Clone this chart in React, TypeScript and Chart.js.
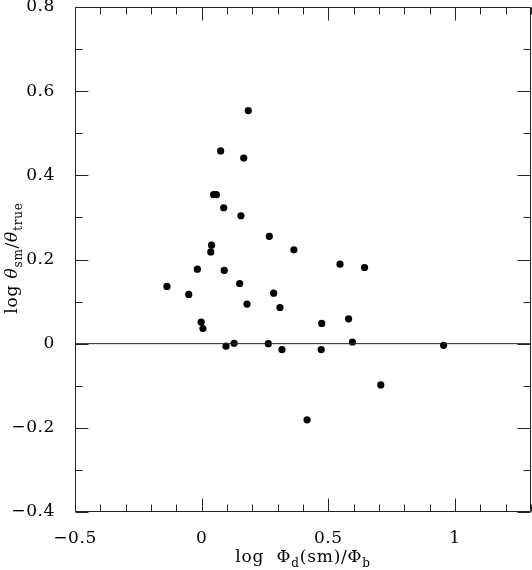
import React, { useEffect, useRef } from 'react';
import { Chart, registerables } from 'chart.js';
Chart.register(...registerables);

// Data
const xVals = [0.184, 0.075, 0.166, 0.047, 0.058, 0.087, 0.155, 0.267, 0.039, 0.036, 0.364, -0.137, -0.017, 0.089, -0.051, 0.150, 0.284, 0.179, 0.309, -0.002, 0.005, 0.096, 0.128, 0.263, 0.317, 0.546, 0.643, 0.474, 0.580, 0.472, 0.595, 0.955, 0.707, 0.416];
const yVals = [0.554, 0.458, 0.441, 0.354, 0.354, 0.323, 0.304, 0.255, 0.234, 0.218, 0.223, 0.136, 0.177, 0.174, 0.117, 0.143, 0.120, 0.094, 0.086, 0.051, 0.036, -0.006, 0.001, 0.000, -0.014, 0.189, 0.181, 0.048, 0.059, -0.014, 0.004, -0.004, -0.098, -0.181];
const zeroLineX = [-0.5, 1.3];
const zeroLineY = [0, 0];

const xMin = -0.5, xMax = 1.3;
const yMin = -0.4, yMax = 0.8;
const xMajorTicks = [-0.5, 0, 0.5, 1];
const yMajorTicks = [-0.4, -0.2, 0, 0.2, 0.4, 0.6, 0.8];
const xMinorStep = 0.1;
const yMinorStep = 0.1;

const FONT = '"DejaVu Serif", serif';

type Part = { t: string; sub?: boolean; italic?: boolean };

function drawRich(ctx: CanvasRenderingContext2D, parts: Part[], cx: number, baseY: number, size: number) {
  const subSize = Math.round(size * 0.7);
  const fontFor = (p: Part) => `${p.italic ? 'italic ' : ''}${p.sub ? subSize : size}px ${FONT}`;
  let total = 0;
  const widths = parts.map((p) => {
    ctx.font = fontFor(p);
    const w = ctx.measureText(p.t).width;
    total += w;
    return w;
  });
  let x = cx - total / 2;
  ctx.textAlign = 'left';
  ctx.textBaseline = 'alphabetic';
  parts.forEach((p, i) => {
    ctx.font = fontFor(p);
    ctx.fillText(p.t, x, baseY + (p.sub ? 5 : 0));
    x += widths[i];
  });
}

const framePlugin = {
  id: 'frameTicks',
  beforeDraw(chart: any) {
    (chart.ctx as any).letterSpacing = '0.6px';
  },
  afterDraw(chart: any) {
    const { ctx, chartArea: a } = chart;
    const xs = chart.scales.x;
    const ys = chart.scales.y;
    ctx.save();
    (ctx as any).letterSpacing = '0px';
    ctx.strokeStyle = '#222';
    ctx.lineWidth = 1;
    const L = Math.round(a.left) + 0.5;
    const R = Math.round(a.right) - 0.5;
    const T = Math.round(a.top) + 0.5;
    const B = Math.round(a.bottom) - 0.5;
    ctx.beginPath();
    ctx.rect(L, T, R - L, B - T);
    ctx.stroke();
    const major = 13, minor = 7;
    ctx.beginPath();
    const nx = Math.round((xMax - xMin) / xMinorStep);
    for (let i = 0; i <= nx; i++) {
      const v = Math.round((xMin + i * xMinorStep) * 10) / 10;
      const isMajor = xMajorTicks.some((m) => Math.abs(m - v) < 1e-6);
      const len = isMajor ? major : minor;
      const px = Math.round(xs.getPixelForValue(v)) + 0.5;
      ctx.moveTo(px, B); ctx.lineTo(px, B - len);
      ctx.moveTo(px, T); ctx.lineTo(px, T + len);
    }
    const ny = Math.round((yMax - yMin) / yMinorStep);
    for (let i = 0; i <= ny; i++) {
      const v = Math.round((yMin + i * yMinorStep) * 10) / 10;
      const isMajor = yMajorTicks.some((m) => Math.abs(m - v) < 1e-6);
      const len = isMajor ? major : minor;
      const py = Math.round(ys.getPixelForValue(v)) + 0.5;
      ctx.moveTo(L, py); ctx.lineTo(L + len, py);
      ctx.moveTo(R, py); ctx.lineTo(R - len, py);
    }
    ctx.stroke();

    // Axis titles
    ctx.fillStyle = '#000';
    (ctx as any).letterSpacing = '0.8px';
    drawRich(ctx, [
      { t: 'log  ' },
      { t: 'Φ' },
      { t: 'd', sub: true },
      { t: '(sm)/' },
      { t: 'Φ' },
      { t: 'b', sub: true },
    ], 303, 562, 17);

    ctx.save();
    ctx.translate(17, 258);
    ctx.rotate(-Math.PI / 2);
    drawRich(ctx, [
      { t: 'log ' },
      { t: 'θ', italic: true },
      { t: 'sm', sub: true },
      { t: '/' },
      { t: 'θ', italic: true },
      { t: 'true', sub: true },
    ], 0, 0, 17);
    ctx.restore();
    ctx.restore();
  },
};

const fmt = (v: number) => {
  const s = String(Math.round(v * 10) / 10);
  return s.replace('-', '\u2212');
};

const zeroPad = (s: any) => {
  s.paddingTop = 0; s.paddingBottom = 0; s.paddingLeft = 0; s.paddingRight = 0;
};

export default function App() {
  const ref = useRef<HTMLCanvasElement | null>(null);
  useEffect(() => {
    document.body.style.margin = '0';
    const canvas = ref.current;
    if (!canvas) return;
    const points = xVals.map((x, i) => ({ x, y: yVals[i] }));
    const zero = zeroLineX.map((x, i) => ({ x, y: zeroLineY[i] }));
    const chart = new Chart(canvas, {
      type: 'scatter',
      data: {
        datasets: [
          {
            type: 'line',
            data: zero,
            borderColor: '#222',
            borderWidth: 1,
            pointRadius: 0,
            fill: false,
          } as any,
          {
            data: points,
            backgroundColor: '#000',
            borderColor: '#000',
            borderWidth: 0,
            pointRadius: 3.6,
            pointHoverRadius: 3.6,
          },
        ],
      },
      options: {
        animation: false,
        responsive: false,
        devicePixelRatio: 1,
        layout: { autoPadding: false, padding: { top: 7, right: 1, left: 0, bottom: 0 } },
        plugins: { legend: { display: false }, tooltip: { enabled: false }, title: { display: false } },
        events: [],
        scales: {
          x: {
            type: 'linear',
            min: xMin,
            max: xMax,
            grid: { display: false },
            border: { display: false },
            afterBuildTicks: (s: any) => { s.ticks = xMajorTicks.map((value) => ({ value })); },
            afterFit: (s: any) => { s.height = 58; zeroPad(s); },
            ticks: {
              color: '#000',
              padding: 8,
              maxRotation: 0,
              font: { family: FONT, size: 17 },
              callback: (v: any) => fmt(Number(v)),
            },
          },
          y: {
            type: 'linear',
            min: yMin,
            max: yMax,
            grid: { display: false },
            border: { display: false },
            afterBuildTicks: (s: any) => { s.ticks = yMajorTicks.map((value) => ({ value })); },
            afterFit: (s: any) => { s.width = 75; zeroPad(s); },
            ticks: {
              color: '#000',
              padding: 12,
              font: { family: FONT, size: 17 },
              callback: (v: any) => fmt(Number(v)),
            },
          },
        },
      },
      plugins: [framePlugin],
    });
    return () => chart.destroy();
  }, []);
  return <canvas ref={ref} width={532} height={570} style={{ display: 'block', width: 532, height: 570 }} />;
}
